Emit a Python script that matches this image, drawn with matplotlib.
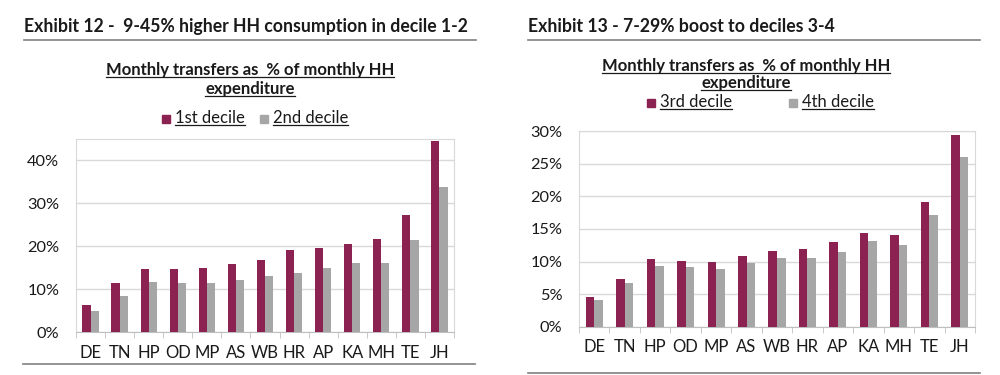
import matplotlib.pyplot as plt
import numpy as np
from matplotlib.lines import Line2D
from matplotlib.patches import Rectangle
from matplotlib.ticker import FuncFormatter

plt.rcParams['font.family'] = ['Lato', 'DejaVu Sans']

states = ["DE", "TN", "HP", "OD", "MP", "AS", "WB", "HR", "AP", "KA", "MH", "TE", "JH"]

decile_1 = [6.2, 11.4, 14.6, 14.8, 15.0, 15.8, 16.7, 19.1, 19.5, 20.5, 21.8, 27.2, 44.5]
decile_2 = [5.0, 8.5, 11.7, 11.5, 11.4, 12.2, 13.0, 13.8, 14.9, 16.1, 16.2, 21.4, 33.8]
decile_3 = [4.6, 7.4, 10.4, 10.1, 10.0, 10.9, 11.6, 11.9, 13.0, 14.4, 14.1, 19.1, 29.4]
decile_4 = [4.2, 6.7, 9.3, 9.15, 8.95, 9.8, 10.5, 10.6, 11.5, 13.1, 12.5, 17.1, 26.0]

MAROON = "#8B2252"
GREY = "#A6A6A6"
GRID = "#D9D9D9"
W, H = 1000, 375

fig = plt.figure(figsize=(10, 3.75), dpi=100)


def fy(px):
    return 1 - px / H


def fx(px):
    return px / W


def hline(x0, x1, y, color="#808080", lw=1.2):
    fig.add_artist(Line2D([fx(x0), fx(x1)], [fy(y), fy(y)], color=color, lw=lw,
                          transform=fig.transFigure))


def underlined(x, y, s, ha="center", size=12, weight="normal"):
    t = fig.text(fx(x), fy(y), s, ha=ha, va="baseline", fontsize=size,
                 fontweight=weight, color="#1a1a1a")
    fig.canvas.draw()
    bb = t.get_window_extent()
    hline(bb.x0, bb.x1, y + 2, color="#1a1a1a", lw=0.9)
    return t


def legend_item(x, y, s, color):
    fig.add_artist(Rectangle((fx(x), fy(y)), 8 / W, 8 / H, color=color,
                             transform=fig.transFigure))
    underlined(x + 13, y, s, ha="left", size=12)


def bar_panel(rect, v1, v2, ymax, step):
    ax = fig.add_axes(rect)
    x = np.arange(len(states))
    w = 0.28
    ax.bar(x - w / 2, v1, w, color=MAROON, zorder=3)
    ax.bar(x + w / 2, v2, w, color=GREY, zorder=3)
    ax.set_xlim(-0.5, len(states) - 0.5)
    ax.set_ylim(0, ymax)
    ax.set_yticks(np.arange(0, ymax + 0.01, step))
    ax.yaxis.set_major_formatter(FuncFormatter(lambda v, p: f"{v:.0f}%"))
    ax.set_xticks(x)
    ax.set_xticklabels(states)
    ax.set_xticks(np.arange(-0.5, len(states)), minor=True)
    ax.tick_params(axis="x", which="major", length=0, labelsize=12, pad=9,
                   labelcolor="#1a1a1a")
    ax.tick_params(axis="x", which="minor", length=4, color="#BFBFBF")
    ax.tick_params(axis="y", length=0, labelsize=11.8, pad=12, labelcolor="#1a1a1a")
    ax.grid(axis="y", color=GRID, lw=1, zorder=0)
    for sp in ax.spines.values():
        sp.set_color(GRID)
    ax.spines["bottom"].set_color("#BFBFBF")
    return ax


# left panel
fig.text(fx(24), fy(32), "Exhibit 12 -  9-45% higher HH consumption in decile 1-2",
         fontsize=12.7, fontweight="bold", va="baseline", color="#1a1a1a")
hline(24, 476, 40)
underlined(250, 75, "Monthly transfers as  % of monthly HH", weight="bold")
underlined(250, 94, "expenditure", weight="bold")
legend_item(162, 123, "1st decile", MAROON)
legend_item(260, 123, "2nd decile", GREY)
bar_panel([fx(76), fy(332), fx(454 - 76), (332 - 139) / H], decile_1, decile_2, 45, 10)
hline(23, 475, 364)

# right panel
fig.text(fx(528), fy(32), "Exhibit 13 - 7-29% boost to deciles 3-4",
         fontsize=12.7, fontweight="bold", va="baseline", color="#1a1a1a")
hline(528, 980, 40)
underlined(746, 71, "Monthly transfers as  % of monthly HH", weight="bold")
underlined(746, 88, "expenditure", weight="bold")
legend_item(647, 107, "3rd decile", MAROON)
legend_item(789, 107, "4th decile", GREY)
bar_panel([fx(579), fy(327), fx(975 - 579), (327 - 131) / H], decile_3, decile_4, 30, 5)
hline(528, 980, 373)

fig.savefig("out.png", dpi=100)
